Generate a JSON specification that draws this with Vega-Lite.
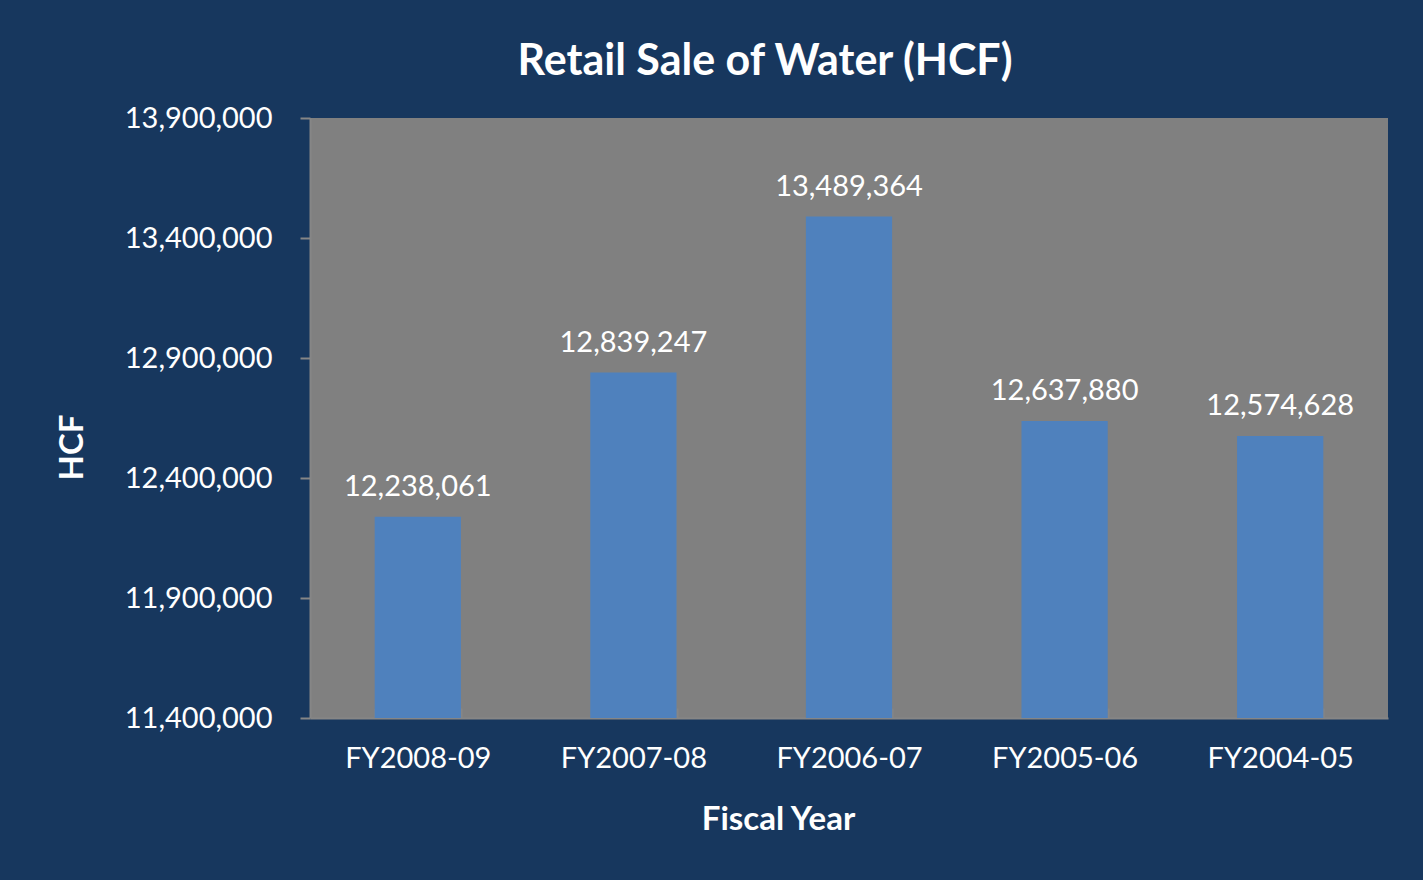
{
  "$schema": "https://vega.github.io/schema/vega-lite/v6.json",
  "width": 1078,
  "height": 600,
  "autosize": {"type": "none"},
  "padding": {"left": 310, "top": 118, "right": 35, "bottom": 162},
  "background": "#17375E",
  "title": {
    "text": "Retail Sale of Water (HCF)",
    "font": "Lato",
    "fontSize": 43,
    "fontWeight": "bold",
    "color": "#FFFFFF",
    "anchor": "middle",
    "frame": "group",
    "dx": -84,
    "offset": 20
  },
  "data": {
    "values": [
      {"year": "FY2008-09", "hcf": 12238061},
      {"year": "FY2007-08", "hcf": 12839247},
      {"year": "FY2006-07", "hcf": 13489364},
      {"year": "FY2005-06", "hcf": 12637880},
      {"year": "FY2004-05", "hcf": 12574628}
    ]
  },
  "config": {
    "view": {"fill": "#808080", "stroke": null},
    "axis": {
      "labelFont": "Lato",
      "labelFontSize": 29,
      "labelColor": "#FFFFFF",
      "titleFont": "Lato",
      "titleFontSize": 33,
      "titleFontWeight": "bold",
      "titleColor": "#FFFFFF",
      "domainColor": "#868686",
      "domainWidth": 2,
      "tickColor": "#868686",
      "tickWidth": 2,
      "grid": false
    }
  },
  "encoding": {
    "x": {
      "field": "year",
      "type": "nominal",
      "sort": null,
      "title": "Fiscal Year",
      "scale": {"paddingInner": 0.6, "paddingOuter": 0.3},
      "axis": {
        "labelAngle": 0,
        "labelPadding": 36,
        "tickBand": "extent",
        "tickSize": -10,
        "titleX": 468,
        "titleY": 111,
        "titleBaseline": "alphabetic"
      }
    },
    "y": {
      "field": "hcf",
      "type": "quantitative",
      "title": "HCF",
      "scale": {"domain": [11400000, 13900000], "zero": false, "nice": false},
      "axis": {
        "values": [11400000, 11900000, 12400000, 12900000, 13400000, 13900000],
        "format": ",.0f",
        "tickSize": 10,
        "labelPadding": 28,
        "titleX": -238,
        "titleY": 329,
        "titleAngle": 270,
        "titleBaseline": "middle"
      }
    }
  },
  "layer": [
    {"mark": {"type": "bar", "color": "#4F81BD", "clip": true}},
    {
      "mark": {"type": "text", "color": "#FFFFFF", "font": "Lato", "fontSize": 29, "baseline": "bottom", "dy": -15},
      "encoding": {"text": {"field": "hcf", "type": "quantitative", "format": ",.0f"}}
    }
  ]
}
